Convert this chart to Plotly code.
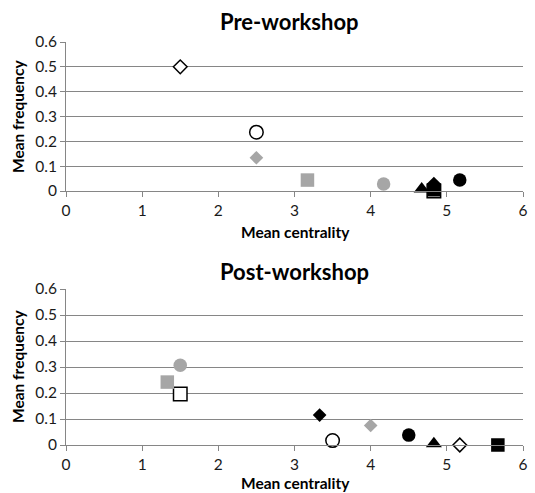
import plotly.graph_objects as go

# Ten indicator series (shape/fill style)
series_symbols = ["diamond-open", "circle-open", "square-open", "diamond", "square",
                  "circle", "diamond", "square", "triangle-up", "circle"]
series_colors = ["#000000", "#000000", "#000000", "#a6a6a6", "#a6a6a6",
                 "#a6a6a6", "#000000", "#000000", "#000000", "#000000"]

pre_x = [1.5, 2.5, 4.83, 2.5, 3.17, 4.17, 4.83, 4.83, 4.67, 5.17]
pre_y = [0.50, 0.237, 0.0, 0.134, 0.044, 0.028, 0.03, 0.005, 0.008, 0.044]
post_x = [5.17, 3.5, 1.5, 4.0, 1.33, 1.5, 3.33, 5.67, 4.83, 4.5]
post_y = [0.0, 0.017, 0.196, 0.075, 0.242, 0.307, 0.115, 0.0, 0.005, 0.038]

x_ticks = [0, 1, 2, 3, 4, 5, 6]
y_ticks = [0, 0.1, 0.2, 0.3, 0.4, 0.5, 0.6]
y_tick_text = ["0", "0.1", "0.2", "0.3", "0.4", "0.5", "0.6"]

FONT = "Lato"
W, H = 535, 493

fig = go.Figure()

def sizes(sym):
    if sym.startswith("diamond"):
        return 10.5
    if sym.startswith("triangle"):
        return 14
    return 13.5

for xs, ys, xa, ya in [(pre_x, pre_y, "x", "y"), (post_x, post_y, "x2", "y2")]:
    for i, sym in enumerate(series_symbols):
        openm = sym.endswith("open")
        fig.add_trace(go.Scatter(
            x=[xs[i]], y=[ys[i]], mode="markers", xaxis=xa, yaxis=ya,
            showlegend=False, cliponaxis=False, hoverinfo="skip",
            marker=dict(symbol=sym.replace("-open", ""), size=sizes(sym),
                        color="#ffffff" if openm else series_colors[i],
                        line=dict(color=series_colors[i], width=1.5 if openm else 0)),
        ))

xdom = [66 / W, 523 / W]
top_dom = [1 - 191 / H, 1 - 42 / H]
bot_dom = [1 - 445 / H, 1 - 289 / H]

axis_common = dict(showline=True, linecolor="#868686", linewidth=1, ticks="outside",
                   ticklen=5, tickcolor="#868686", zeroline=False, automargin=False,
                   tickfont=dict(family=FONT, size=15.5, color="#1a1a1a"))

fig.update_layout(
    template="none",
    width=W, height=H, margin=dict(l=0, r=0, t=0, b=0, pad=0, autoexpand=False),
    plot_bgcolor="white", paper_bgcolor="white",
    xaxis=dict(domain=xdom, range=[0, 6], tickvals=x_ticks, showgrid=False,
               anchor="y", **axis_common),
    yaxis=dict(domain=top_dom, range=[0, 0.6], tickvals=y_ticks, ticktext=y_tick_text,
               showgrid=True, gridcolor="#868686", gridwidth=1, anchor="x", **axis_common),
    xaxis2=dict(domain=xdom, range=[0, 6], tickvals=x_ticks, showgrid=False,
                anchor="y2", **axis_common),
    yaxis2=dict(domain=bot_dom, range=[0, 0.6], tickvals=y_ticks, ticktext=y_tick_text,
                showgrid=True, gridcolor="#868686", gridwidth=1, anchor="x2", **axis_common),
)

def ann(text, x, y, size, angle=0):
    fig.add_annotation(text=f"<b>{text}</b>", x=x / W, y=1 - y / H, xref="paper", yref="paper",
                       showarrow=False, textangle=angle, xanchor="center", yanchor="middle",
                       font=dict(family=FONT, size=size, color="#000000"))

ann("Pre-workshop", 289, 22, 22)
ann("Post-workshop", 294, 271, 22)
ann("Mean centrality", 295, 232, 15.5)
ann("Mean centrality", 295, 483, 15.5)
ann("Mean frequency", 18, 117, 15.5, -90)
ann("Mean frequency", 18, 367, 15.5, -90)

fig.write_html("out.html", config={"displayModeBar": False},
               post_script="document.body.style.margin='0';document.documentElement.style.overflow='hidden';")
